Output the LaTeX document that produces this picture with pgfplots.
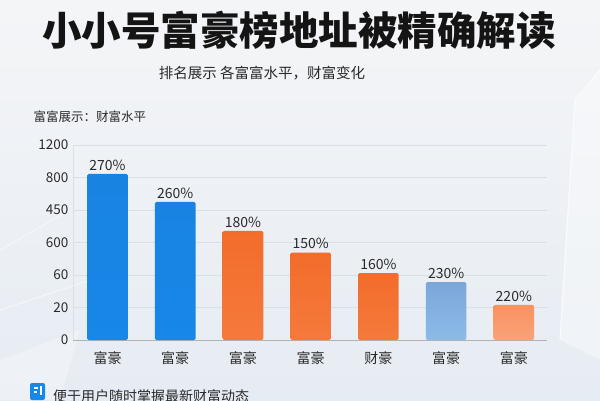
\documentclass[border=0pt]{standalone}
\usepackage{pgfplots}
\pgfplotsset{compat=1.18}
\usepackage{fontspec}
\setmainfont{Noto Sans CJK SC}
\definecolor{bgtop}{HTML}{F4F5F7}
\definecolor{bgbot}{HTML}{E6ECF3}
\definecolor{barblue}{HTML}{1787E8}
\definecolor{barblueT}{HTML}{1983E2}
\definecolor{barorange}{HTML}{F36C2B}
\definecolor{barorangeB}{HTML}{F47A3C}
\definecolor{barsteel}{HTML}{7BA6D9}
\definecolor{barsteelB}{HTML}{8CBBE8}
\definecolor{barlight}{HTML}{F8925F}
\definecolor{barlightB}{HTML}{F9A27A}
\definecolor{gridc}{HTML}{DADFE5}
\definecolor{txt}{HTML}{2A2A2A}
\begin{document}
\begin{tikzpicture}[x=1pt,y=1pt]
\path[use as bounding box] (0,0) rectangle (600,400);
\fill[top color=bgtop,bottom color=bgbot] (0,0) rectangle (600,400);
% faint decorative background
\fill[white,opacity=0.35] (560,60) -- (600,40) -- (600,330) -- (575,300) -- cycle;
\draw[white,line width=1.2pt,opacity=0.7] (560,60) -- (575,300) -- (600,330);
\draw[white,line width=0.8pt,opacity=0.6] (0,90) -- (120,130);
\draw[white,line width=0.8pt,opacity=0.6] (0,150) -- (70,190);
\fill[white,opacity=0.3] (0,40) -- (80,70) -- (60,0) -- (0,0) -- cycle;
\begin{axis}[
  name=ax,
  at={(73pt,60pt)}, anchor=south west,
  scale only axis, width=474pt, height=195pt,
  ybar, bar width=0.6, bar shift=0pt,
  xmin=-0.51, xmax=6.49, ymin=0, ymax=6,
  xtick={0,...,6},
  xticklabels={富豪,富豪,富豪,富豪,财豪,富豪,富豪},
  ytick={0,...,6},
  yticklabels={0,20,60,600,450,800,1200},
  /pgf/number format/assume math mode=true,
  ymajorgrids, grid style={gridc, line width=0.6pt},
  axis x line*=bottom, axis y line*=left,
  x axis line style={draw=gray!60, line width=0.8pt},
  y axis line style={draw=gridc, line width=0.6pt},
  major tick length=0pt,
  tick label style={font=\fontsize{13.5}{14}\selectfont, text=txt},
  xticklabel style={yshift=-8pt, font=\fontsize{14}{14}\selectfont},
  yticklabel style={xshift=-1pt},
  point meta=explicit symbolic,
  nodes near coords={\pgfplotspointmeta},
  every node near coord/.append style={font=\fontsize{14}{14}\selectfont, text=txt, yshift=0pt},
  axis on top=false,
  clip=false,
]
\addplot[draw=none, top color=barblueT, bottom color=barblue, rounded corners=1.5pt] coordinates {(0,5.11) [270\%]};
\addplot[draw=none, top color=barblueT, bottom color=barblue, rounded corners=1.5pt] coordinates {(1,4.25) [260\%]};
\addplot[draw=none, top color=barorange, bottom color=barorangeB, rounded corners=1.5pt] coordinates {(2,3.36) [180\%]};
\addplot[draw=none, top color=barorange, bottom color=barorangeB, rounded corners=1.5pt] coordinates {(3,2.69) [150\%]};
\addplot[draw=none, top color=barorange, bottom color=barorangeB, rounded corners=1.5pt] coordinates {(4,2.06) [160\%]};
\addplot[draw=none, top color=barsteel, bottom color=barsteelB, rounded corners=1.5pt] coordinates {(5,1.78) [230\%]};
\addplot[draw=none, top color=barlight, bottom color=barlightB, rounded corners=1.5pt] coordinates {(6,1.08) [220\%]};
\end{axis}
\node[font=\bfseries\fontsize{39.5}{40}\selectfont, text=black!92] at (299,370) {小小号富豪榜地址被精确解读};
\node[font=\fontsize{14.5}{15}\selectfont, text=txt] at (262,327) {排名展示 各富富水平，财富变化};
\node[anchor=west, font=\fontsize{12.5}{13}\selectfont, text=txt] at (30,283) {富富展示：财富水平};
% footer
\fill[barblue, rounded corners=2pt] (30,0) rectangle (45,17);
\draw[white, line width=1.2pt] (34,12) -- (38,12) (34,8) -- (37,8) (41,14) -- (41,5);
\node[anchor=north west, font=\fontsize{14}{14}\selectfont, text=txt, inner sep=0pt] at (53,11) {便于用户随时掌握最新财富动态};
\end{tikzpicture}
\end{document}
